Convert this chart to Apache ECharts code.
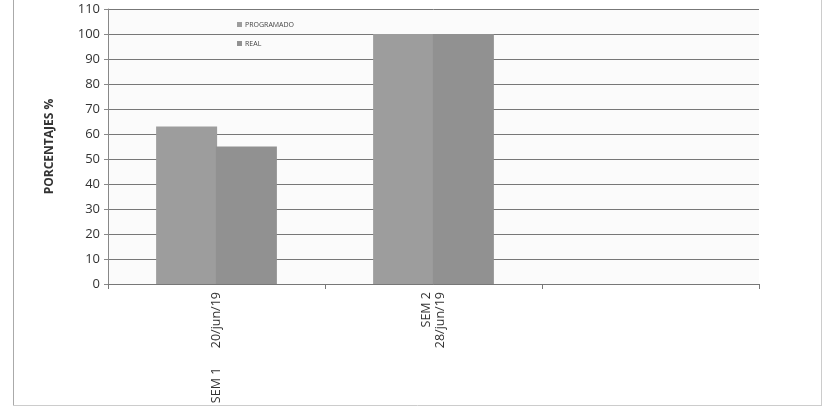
<!DOCTYPE html>
<html>
<head>
<meta charset="utf-8">
<script src="https://cdn.jsdelivr.net/npm/echarts@6/dist/echarts.min.js"></script>
<style>html,body{margin:0;padding:0;background:#fff;}#c{width:822px;height:406px;}</style>
</head>
<body>
<div id="c"></div>
<script>
const categories = ['SEM 1      20/jun/19', 'SEM 2\n28/jun/19', ''];
const programado = [63, 100, null];
const real = [55, 100, null];
const yTicks = { min: 0, max: 110, interval: 10 };

const chart = echarts.init(document.getElementById('c'));
chart.setOption({
  animation: false,
  backgroundColor: '#ffffff',
  textStyle: { fontFamily: 'Open Sans' },
  graphic: [
    { type: 'line', shape: { x1: 13.5, y1: 0, x2: 13.5, y2: 406 }, style: { stroke: '#aaa', lineWidth: 1 } },
    { type: 'line', shape: { x1: 821.5, y1: 0, x2: 821.5, y2: 406 }, style: { stroke: '#ccc', lineWidth: 1 } },
    { type: 'line', shape: { x1: 13, y1: 405.5, x2: 822, y2: 405.5 }, style: { stroke: '#ccc', lineWidth: 1 } }
  ],
  grid: { left: 108, right: 63, top: 9, bottom: 122, containLabel: false, outerBoundsMode: 'none',
          show: true, backgroundColor: '#fbfbfb', borderWidth: 0 },
  legend: {
    orient: 'vertical', left: 232, top: 16, itemWidth: 5, itemHeight: 5, itemGap: 12,
    icon: 'rect',
    textStyle: { fontSize: 7, color: '#444', fontFamily: 'Open Sans', padding: [0, 0, 0, -2] },
    data: ['PROGRAMADO', 'REAL']
  },
  xAxis: {
    type: 'category', data: categories,
    axisLine: { lineStyle: { color: '#777', width: 1 } },
    axisTick: { show: true, length: 5, alignWithLabel: false, lineStyle: { color: '#777' } },
    axisLabel: { rotate: 90, fontSize: 12.5, color: '#333', margin: 8, lineHeight: 14, interval: 0 }
  },
  yAxis: {
    type: 'value', min: yTicks.min, max: yTicks.max, interval: yTicks.interval,
    name: 'PORCENTAJES %', nameLocation: 'middle', nameGap: 52,
    nameTextStyle: { fontSize: 12, fontWeight: 'bold', color: '#333' },
    axisLine: { show: true, lineStyle: { color: '#888' } },
    axisTick: { show: true, length: 4, lineStyle: { color: '#888' } },
    axisLabel: { fontSize: 13, color: '#333', margin: 8 },
    splitLine: { lineStyle: { color: '#777', width: 1 } }
  },
  series: [
    { name: 'PROGRAMADO', type: 'bar', data: programado, barWidth: 61, barGap: '-2%',
      itemStyle: { color: '#9d9d9d' } },
    { name: 'REAL', type: 'bar', data: real, barWidth: 61, barGap: '-2%',
      itemStyle: { color: '#919191' } }
  ]
});
</script>
</body>
</html>
